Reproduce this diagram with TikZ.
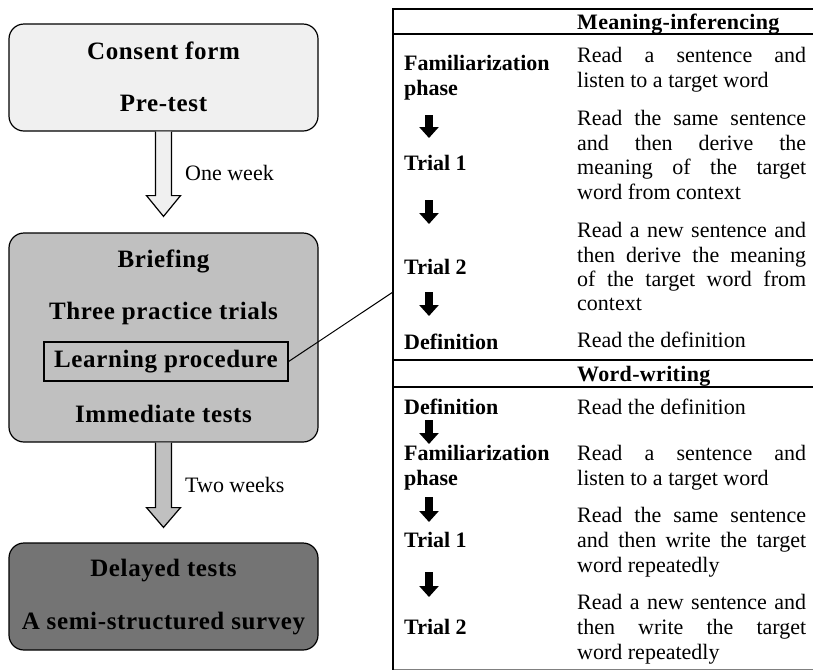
\documentclass[tikz,border=0pt]{standalone}
\usepackage{fontspec}
\setmainfont{Liberation Serif}
\usetikzlibrary{arrows.meta,calc}
\definecolor{lightfill}{HTML}{F0F0F0}
\definecolor{midfill}{HTML}{C0C0C0}
\definecolor{darkfill}{HTML}{747474}
\newcommand{\jline}[1]{\makebox[229pt][s]{#1}}
\tikzset{
  box/.style={draw, line width=1.2pt, rounded corners=15pt, minimum width=309pt, inner sep=0pt},
  btxt/.style={font=\fontsize{25}{30}\selectfont\bfseries\addfontfeature{LetterSpace=2.5}, anchor=base, inner sep=0pt},
  ttxt/.style={font=\fontsize{22}{25}\selectfont, anchor=base west, inner sep=0pt},
  tlab/.style={font=\fontsize{22}{25}\selectfont\bfseries, anchor=base west, inner sep=0pt},
  thead/.style={font=\fontsize{22}{25}\selectfont\bfseries\addfontfeature{LetterSpace=1.5}, anchor=base west, inner sep=0pt},
  darrow/.style={line width=8pt, -{Triangle[width=19pt,length=11pt]}},
  tline/.style={line width=1.8pt},
  blockarrow/.style={draw, line width=1.2pt, line join=miter},
}
\begin{document}
\begin{tikzpicture}[x=1pt,y=-1pt]
\useasboundingbox (0,0) rectangle (813,670);

% ---------- left flow ----------
\node[box, fill=lightfill, minimum height=107pt] (b1) at (163.5,77.5) {};
\node[btxt] (t11) at (163.5,59) {Consent form};
\node[btxt] (t12) at (163.5,111) {Pre-test};

\node[box, fill=midfill, minimum height=209pt] (b2) at (163.5,337.5) {};
\node[btxt] (t21) at (163.5,267) {Briefing};
\node[btxt] (t22) at (163.5,319) {Three practice trials};
\node[draw, line width=1.2pt, minimum width=244pt, minimum height=39pt, inner sep=0pt,
      font=\fontsize{25}{30}\selectfont\bfseries\addfontfeature{LetterSpace=2.5}] (lp) at (166,361.5) {Learning procedure};
\node[btxt] (t24) at (163.5,422) {Immediate tests};

\node[box, fill=darkfill, minimum height=107pt] (b3) at (163.5,596.5) {};
\node[btxt] (t31) at (163.5,576) {Delayed tests};
\node[btxt] (t32) at (163.5,629) {A semi-structured survey};

% block arrows
\draw[blockarrow, fill=lightfill]
  ($(b1.south)+(-8,0)$) -- ($(b1.south)+(-8,64)$) -- ($(b1.south)+(-17,64)$)
  -- ($(b2.north)+(0,-16)$) -- ($(b1.south)+(17,64)$) -- ($(b1.south)+(8,64)$)
  -- ($(b1.south)+(8,0)$);
\draw[blockarrow, fill=midfill]
  ($(b2.south)+(-8,0)$) -- ($(b2.south)+(-8,65)$) -- ($(b2.south)+(-17,65)$)
  -- ($(b3.north)+(0,-15)$) -- ($(b2.south)+(17,65)$) -- ($(b2.south)+(8,65)$)
  -- ($(b2.south)+(8,0)$);
\node[ttxt] (ow) at (185,180) {One week};
\node[ttxt] (tw) at (185,492) {Two weeks};

% ---------- table ----------
\coordinate (tTL) at (393,9);
\coordinate (tTR) at (813,9);
\coordinate (tBL) at (393,669);
\coordinate (tBR) at (813,669);
\draw[tline] (tTL) -- (tTR);
\draw[tline] (393,34) -- (813,34);
\draw[tline] (393,360) -- (813,360);
\draw[tline] (393,387) -- (813,387);
\draw[line width=1pt, gray] (tBL) -- (tBR);
\draw[tline] ($(tTL)+(0,-0.9)$) -- (393,670);

\coordinate (tl) at (393,292);
\draw[line width=1pt] (lp.east) -- (tl);

% section 1
\node[thead] (h1) at (577,29) {Meaning-inferencing};
\node[tlab] (l11) at (404,70) {Familiarization};
\node[tlab] (l12) at (404,95) {phase};
\node[tlab] (l13) at (404,170) {Trial 1};
\node[tlab] (l14) at (404,274) {Trial 2};
\node[tlab] (l15) at (404,349) {Definition};
\coordinate (a1s) at (429,115); \coordinate (a1e) at (429,138);
\coordinate (a2s) at (429,200); \coordinate (a2e) at (429,224);
\coordinate (a3s) at (429,292); \coordinate (a3e) at (429,316);
\draw[darrow] (a1s) -- (a1e);
\draw[darrow] (a2s) -- (a2e);
\draw[darrow] (a3s) -- (a3e);

\node[ttxt] (r1) at (577,62) {\jline{Read a sentence and}};
\node[ttxt] (r2) at (577,87) {listen to a target word};
\node[ttxt] (r3) at (577,125) {\jline{Read the same sentence}};
\node[ttxt] (r4) at (577,150) {\jline{and then derive the}};
\node[ttxt] (r5) at (577,174) {\jline{meaning of the target}};
\node[ttxt] (r6) at (577,199) {word from context};
\node[ttxt] (r7) at (577,237) {\jline{Read a new sentence and}};
\node[ttxt] (r8) at (577,262) {\jline{then derive the meaning}};
\node[ttxt] (r9) at (577,286) {\jline{of the target word from}};
\node[ttxt] (r10) at (577,310) {context};
\node[ttxt] (r11) at (577,347) {Read the definition};

% section 2
\node[thead] (h2) at (577,381) {Word-writing};
\node[tlab] (l21) at (404,414) {Definition};
\node[tlab] (l22) at (404,460) {Familiarization};
\node[tlab] (l23) at (404,485) {phase};
\node[tlab] (l24) at (404,547) {Trial 1};
\node[tlab] (l25) at (404,634) {Trial 2};
\coordinate (b1s) at (429,420); \coordinate (b1e) at (429,444);
\coordinate (b2s) at (429,497); \coordinate (b2e) at (429,522);
\coordinate (b3s) at (429,572); \coordinate (b3e) at (429,597);
\draw[darrow] (b1s) -- (b1e);
\draw[darrow] (b2s) -- (b2e);
\draw[darrow] (b3s) -- (b3e);

\node[ttxt] (s1) at (577,414) {Read the definition};
\node[ttxt] (s2) at (577,460) {\jline{Read a sentence and}};
\node[ttxt] (s3) at (577,485) {listen to a target word};
\node[ttxt] (s4) at (577,522) {\jline{Read the same sentence}};
\node[ttxt] (s5) at (577,547) {\jline{and then write the target}};
\node[ttxt] (s6) at (577,572) {word repeatedly};
\node[ttxt] (s7) at (577,609) {\jline{Read a new sentence and}};
\node[ttxt] (s8) at (577,634) {\jline{then write the target}};
\node[ttxt] (s9) at (577,659) {word repeatedly};
\end{tikzpicture}
\end{document}
